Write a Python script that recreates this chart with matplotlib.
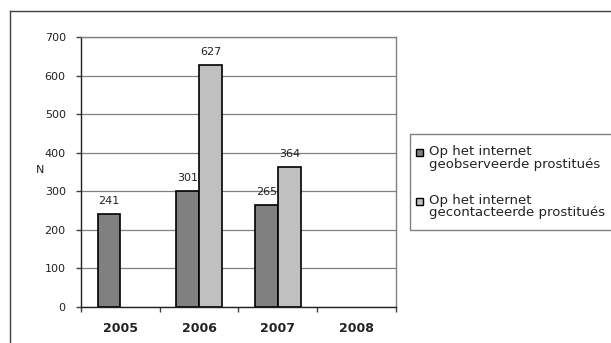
import matplotlib
matplotlib.use("Agg")
import matplotlib.pyplot as plt
from matplotlib.patches import Rectangle, Patch
from matplotlib.lines import Line2D
from matplotlib.legend_handler import HandlerPatch
import numpy as np

plt.rcParams['font.family'] = ['DejaVu Sans']

years = ["2005", "2006", "2007", "2008"]
observed = [241, 301, 265, None]
contacted = [None, 627, 364, None]
series_names = ["Op het internet\ngeobserveerde prostitués",
                "Op het internet\ngecontacteerde prostitués"]
yticks = [0, 100, 200, 300, 400, 500, 600, 700]

W, H = 611, 343
fig = plt.figure(figsize=(W / 100, H / 100), dpi=100)
txt = "#222222"

# outer chart frame (runs off the right and bottom edges)
fig.add_artist(Line2D([10 / W, 10 / W], [0, 1 - 11 / H], transform=fig.transFigure,
                      color="#404040", lw=1.0))
fig.add_artist(Line2D([10 / W, 1], [1 - 11 / H, 1 - 11 / H], transform=fig.transFigure,
                      color="#404040", lw=1.0))

ax = fig.add_axes([81 / W, 36 / H, 315 / W, 270 / H])
x = np.arange(len(years))
bw = 0.29
dark, light = "#808080", "#C0C0C0"

for i, v in enumerate(observed):
    if v is not None:
        ax.bar(x[i] - bw / 2, v, bw, color=dark, edgecolor="black", lw=1.2, zorder=3)
        ax.text(x[i] - bw / 2, v + 20, str(v), ha="center", va="bottom", fontsize=8, color=txt)
for i, v in enumerate(contacted):
    if v is not None:
        ax.bar(x[i] + bw / 2, v, bw, color=light, edgecolor="black", lw=1.2, zorder=3)
        ax.text(x[i] + bw / 2, v + 20, str(v), ha="center", va="bottom", fontsize=8, color=txt)

ax.set_xlim(-0.5, len(years) - 0.5)
ax.set_ylim(0, 700)
ax.set_yticks(yticks)
ax.set_yticklabels([str(t) for t in yticks], fontsize=8, color=txt)
ax.yaxis.grid(True, color="#808080", lw=0.9, zorder=0)
ax.set_xticks(x)
ax.set_xticklabels(years, fontsize=9, fontweight="bold", color=txt)
ax.tick_params(axis="x", length=0, pad=11)
ax.set_xticks(np.arange(-0.5, len(years)), minor=True)
ax.tick_params(axis="x", which="minor", length=3.5, width=1, color="#404040", direction="out")
ax.tick_params(axis="y", length=3.5, width=1, color="#404040", direction="out", pad=7.5)
for s in ("left", "bottom"):
    ax.spines[s].set_color("#202020")
    ax.spines[s].set_linewidth(1.0)
for s in ("top", "right"):
    ax.spines[s].set_color("#808080")
    ax.spines[s].set_linewidth(1.0)
ax.set_ylabel("N", rotation=0, fontsize=8, color=txt)
ax.yaxis.set_label_coords(-0.13, 0.49)

# legend frame extending past the right edge
fig.add_artist(Rectangle((410 / W, 1 - 230 / H), 0.5, 96 / H, transform=fig.transFigure,
                         facecolor="white", edgecolor="#808080", lw=1.0))


def top_aligned_box(legend, orig_handle, xdescent, ydescent, width, height, fontsize):
    return Rectangle((-xdescent, -ydescent + 0.42 * fontsize), width, height)


handles = [Patch(facecolor=dark, edgecolor="black", lw=1.0),
           Patch(facecolor=light, edgecolor="black", lw=1.0)]
leg = fig.legend(handles, series_names, loc="upper left", bbox_to_anchor=(416 / W, 1 - 145 / H),
                 frameon=False, fontsize=9.5, handlelength=0.55, handleheight=0.45,
                 handletextpad=0.45, labelspacing=1.75, borderpad=0, borderaxespad=0,
                 handler_map={Patch: HandlerPatch(patch_func=top_aligned_box)})
for t in leg.get_texts():
    t.set_linespacing(0.95)
    t.set_color(txt)

fig.savefig("out.png", dpi=100)
